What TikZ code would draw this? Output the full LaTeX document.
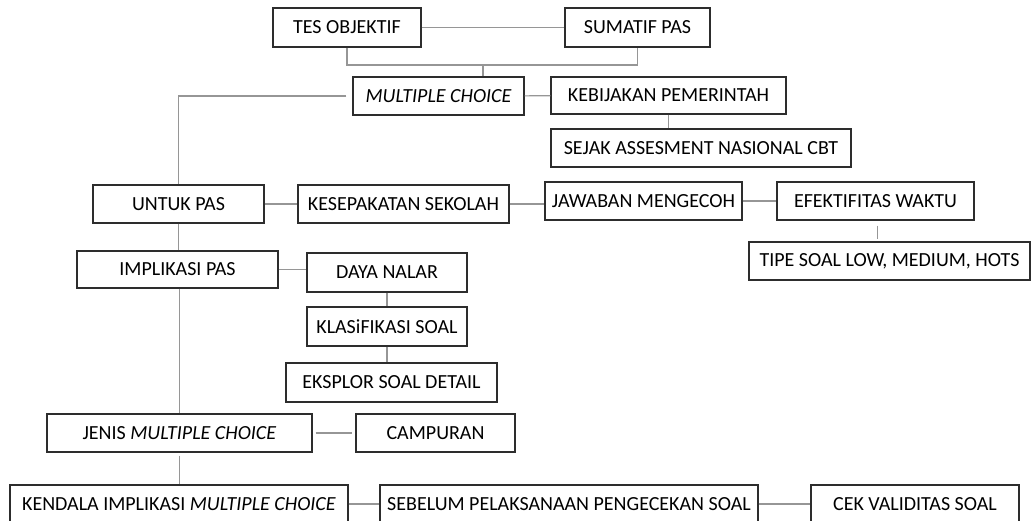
\documentclass[tikz,border=0pt]{standalone}
\usepackage{fontspec}
\setmainfont{Carlito}
\usepackage{tikz}
\usetikzlibrary{positioning,calc}
\definecolor{boxline}{RGB}{45,45,45}
\definecolor{linkgray}{RGB}{150,150,150}

\begin{document}
\begin{tikzpicture}[x=1pt, y=-1pt, font=\fontsize{20}{24}\selectfont, box/.style={draw=boxline, line width=1.3pt, inner sep=0pt, minimum height=38pt}, link/.style={draw=linkgray, line width=1.1pt}]
\clip (0,0) rectangle (1033,521);
\node[box, minimum width=148pt, minimum height=39pt] (tes) at (347,27.5) {TES OBJEKTIF};
\node[box, minimum width=145pt, minimum height=39pt] (sum) at (637.5,27.5) {SUMATIF PAS};
\node[box, minimum width=171pt] (mc) at (438.5,96) {\itshape MULTIPLE CHOICE};
\node[box, minimum width=235pt, minimum height=37pt] (keb) at (668.5,95.5) {KEBIJAKAN PEMERINTAH};
\node[box, minimum width=300pt] (sejak) at (701,148) {SEJAK ASSESMENT NASIONAL CBT};
\node[box, minimum width=171pt] (untuk) at (178.5,204) {UNTUK PAS};
\node[box, minimum width=211pt] (kesep) at (403.5,204) {KESEPAKATAN SEKOLAH};
\node[box, minimum width=197pt] (jawab) at (643.5,201) {JAWABAN MENGECOH};
\node[box, minimum width=197pt] (efek) at (875.5,201) {EFEKTIFITAS WAKTU};
\node[box, minimum width=281pt] (tipe) at (889.5,261) {TIPE SOAL LOW, MEDIUM, HOTS};
\node[box, minimum width=201pt, minimum height=37pt] (impl) at (177.5,269.5) {IMPLIKASI PAS};
\node[box, minimum width=160pt, minimum height=39pt] (daya) at (387,272.5) {DAYA NALAR};
\node[box, minimum width=160pt, minimum height=39pt] (klas) at (387,326.5) {KLASiFIKASI SOAL};
\node[box, minimum width=211pt, minimum height=39pt] (eksp) at (391.5,382.5) {EKSPLOR SOAL DETAIL};
\node[box, minimum width=265pt] (jenis) at (179.5,433) {JENIS \textit{MULTIPLE CHOICE}};
\node[box, minimum width=159pt] (camp) at (435.5,433) {CAMPURAN};
\node[box, minimum width=338pt] (kend) at (179,504) {KENDALA IMPLIKASI \textit{MULTIPLE CHOICE}};
\node[box, minimum width=378pt] (sebel) at (569,504) {SEBELUM PELAKSANAAN PENGECEKAN SOAL};
\node[box, minimum width=208pt] (cek) at (915,504) {CEK VALIDITAS SOAL};
\coordinate (jn) at (483,65);
\draw[link] (tes) -- (sum);
\draw[link] (tes.south) -- (tes.south |- jn) -| (sum.south);
\draw[link] (jn) -- (jn |- mc.north);
\draw[link, shorten <=6pt] (mc.west) -| (untuk.north);
\draw[link] (mc) -- (keb);
\draw[link] (keb.south) -- (keb.south |- sejak.north);
\draw[link] (untuk) -- (kesep);
\draw[link] (kesep.east) -- (kesep.east -| jawab.west);
\draw[link] (jawab) -- (efek);
\draw[link, shorten <=5pt, shorten >=2pt] ([xshift=2pt]efek.south) -- ([xshift=2pt]efek.south |- tipe.north);
\draw[link] (untuk) -- (untuk |- impl.north);
\draw[link] (impl.east) -- (impl.east -| daya.west);
\draw[link] (daya) -- (klas);
\draw[link] (klas) -- (klas |- eksp.north);
\draw[link] ([xshift=2pt]impl.south) -- ([xshift=2pt]impl.south |- jenis.north);
\draw[link, shorten <=3pt, shorten >=3pt] (jenis) -- (camp);
\draw[link, shorten <=3pt] (jenis.south) -- (jenis.south |- kend.north);
\draw[link] (kend) -- (sebel);
\draw[link] (sebel) -- (cek);
\end{tikzpicture}
\end{document}
